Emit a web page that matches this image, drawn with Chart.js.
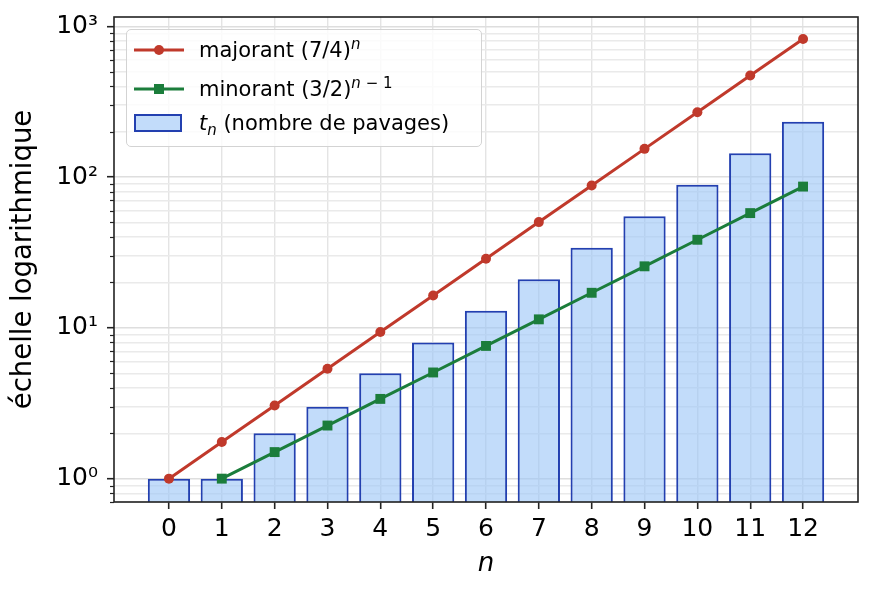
<!DOCTYPE html>
<html>
<head>
<meta charset="utf-8">
<script src="https://cdn.jsdelivr.net/npm/chart.js@4.4.1/dist/chart.umd.min.js"></script>
<style>
  html, body { margin: 0; padding: 0; background: #fff; }
  #wrap { position: relative; width: 873px; height: 595px; }
  #legend {
    position: absolute; left: 126px; top: 29px; width: 356px; height: 118px;
    box-sizing: border-box; border: 1.5px solid #d3d3d3; border-radius: 5px;
    background: rgba(255,255,255,0.8);
    font-family: "DejaVu Sans"; font-size: 21px; color: #000;
  }
  .row { position: absolute; left: 0; height: 30px; line-height: 30px; white-space: nowrap; }
  .row svg { position: absolute; left: 6px; top: 0; }
  .row span { position: absolute; left: 72px; top: 0; }
  sup, sub { font-size: 15px; line-height: 0; }
</style>
</head>
<body>
<div id="wrap">
  <canvas id="graph" width="873" height="595"></canvas>
  <div id="legend">
    <div class="row" style="top:5px">
      <svg width="52" height="30"><line x1="1" y1="15" x2="51" y2="15" stroke="#c0392b" stroke-width="3"/><circle cx="26" cy="15" r="5" fill="#c0392b"/></svg>
      <span>majorant (7/4)<sup><i>n</i></sup></span>
    </div>
    <div class="row" style="top:44px">
      <svg width="52" height="30"><line x1="1" y1="15" x2="51" y2="15" stroke="#1b7d3b" stroke-width="3"/><rect x="21" y="10" width="10" height="10" fill="#1b7d3b"/></svg>
      <span>minorant (3/2)<sup><i>n</i> − 1</sup></span>
    </div>
    <div class="row" style="top:78px">
      <svg width="52" height="30"><rect x="2" y="7" width="46" height="16" fill="#c2dcfa" stroke="#2340b0" stroke-width="2"/></svg>
      <span><i>t</i><sub><i>n</i></sub> (nombre de pavages)</span>
    </div>
  </div>
</div>
<script>
// n = 0..12
const ns = [0, 1, 2, 3, 4, 5, 6, 7, 8, 9, 10, 11, 12];
// t_n, nombre de pavages (barres)
const pavages = [1, 1, 2, 3, 5, 8, 13, 21, 34, 55, 89, 144, 233];
// majorant (7/4)^n
const majorant = [1, 1.75, 3.06, 5.36, 9.38, 16.4, 28.7, 50.3, 88.0, 153.9, 269.4, 471.5, 825.1];
// minorant (3/2)^(n-1), a partir de n = 1
const minorantN = [1, 2, 3, 4, 5, 6, 7, 8, 9, 10, 11, 12];
const minorant = [1, 1.5, 2.25, 3.38, 5.06, 7.59, 11.39, 17.09, 25.6, 38.4, 57.7, 86.5];
// graduations de l'axe y
const yMajor = [1, 10, 100, 1000];
const yTickText = ['10⁰', '10¹', '10²', '10³'];

const RED = '#c0392b';
const GREEN = '#1b7d3b';
const FONT = 'DejaVu Sans';

const isMajor = v => yMajor.indexOf(v) >= 0;

// cadre noir + petites graduations mineures
const frame = {
  id: 'frame',
  afterDraw(chart) {
    const {ctx, chartArea: a} = chart;
    const y = chart.scales.y;
    ctx.save();
    ctx.strokeStyle = '#222';
    ctx.lineWidth = 1.2;
    y.ticks.forEach(t => {
      if (isMajor(t.value)) return;
      const py = Math.round(y.getPixelForValue(t.value)) + 0.5;
      ctx.beginPath();
      ctx.moveTo(a.left - 4, py);
      ctx.lineTo(a.left, py);
      ctx.stroke();
    });
    ctx.lineWidth = 1.6;
    ctx.strokeRect(a.left, a.top, a.right - a.left, a.bottom - a.top);
    ctx.restore();
  }
};

new Chart(document.getElementById('graph'), {
  type: 'line',
  data: {
    datasets: [
      {
        type: 'line',
        label: 'majorant (7/4)^n',
        data: ns.map((n, i) => ({x: n, y: majorant[i]})),
        borderColor: RED, backgroundColor: RED,
        borderWidth: 3, pointRadius: 5, pointStyle: 'circle',
        pointBorderWidth: 0, order: 1
      },
      {
        type: 'line',
        label: 'minorant (3/2)^(n-1)',
        data: minorantN.map((n, i) => ({x: n, y: minorant[i]})),
        borderColor: GREEN, backgroundColor: GREEN,
        borderWidth: 3, pointRadius: 7, pointStyle: 'rect',
        pointBorderWidth: 0, order: 1
      },
      {
        type: 'bar',
        label: 't_n (nombre de pavages)',
        data: ns.map((n, i) => ({x: n, y: pavages[i]})),
        backgroundColor: 'rgba(153,197,247,0.6)',
        borderColor: '#2340b0', borderWidth: 2,
        categoryPercentage: 0.8, barPercentage: 1,
        order: 2
      }
    ]
  },
  options: {
    responsive: false,
    animation: false,
    devicePixelRatio: 1,
    layout: {padding: {left: 0, right: 15, top: 17, bottom: 0}},
    plugins: {legend: {display: false}, tooltip: {enabled: false}},
    scales: {
      x: {
        type: 'linear', min: -1.04, max: 13.04, offset: false,
        afterBuildTicks: s => { s.ticks = ns.map(v => ({value: v})); },
        afterFit: s => { s.height = 93; s.paddingLeft = 0; s.paddingRight = 0; },
        ticks: {
          autoSkip: false, maxRotation: 0, padding: 5, color: '#000',
          font: {family: FONT, size: 25},
          callback: v => String(v)
        },
        grid: {color: '#e4e4e4', lineWidth: 1.4, tickLength: 7, tickColor: '#222', tickWidth: 1.6, offset: false},
        border: {display: false},
        title: {
          display: true, text: 'n', color: '#000',
          font: {family: FONT, size: 26, style: 'italic'},
          padding: {top: 0, bottom: 15}
        }
      },
      y: {
        type: 'logarithmic', min: 0.715, max: 1153,
        afterBuildTicks: s => {
          const t = [];
          [0.1, 1, 10, 100].forEach(d => {
            for (let k = 1; k < 10; k++) {
              const v = +(d * k).toPrecision(3);
              if (v >= s.min && v <= s.max) t.push({value: v, major: isMajor(v)});
            }
          });
          t.push({value: 1000, major: true});
          s.ticks = t;
        },
        afterFit: s => { s.width = 114; s.paddingTop = 0; s.paddingBottom = 0; },
        ticks: {
          autoSkip: false, padding: 9, color: '#000',
          font: {family: FONT, size: 25},
          callback: v => { const j = yMajor.indexOf(v); return j >= 0 ? yTickText[j] : ''; }
        },
        grid: {
          color: c => isMajor(c.tick.value) ? '#dedede' : '#eaeaea',
          lineWidth: 1.4, tickLength: 7,
          tickColor: c => isMajor(c.tick.value) ? '#222' : 'rgba(0,0,0,0)',
          tickWidth: 1.6
        },
        border: {display: false},
        title: {
          display: true, text: 'échelle logarithmique', color: '#000',
          font: {family: FONT, size: 27.5},
          padding: {top: 7, bottom: 0}
        }
      }
    }
  },
  plugins: [frame]
});
</script>
</body>
</html>
